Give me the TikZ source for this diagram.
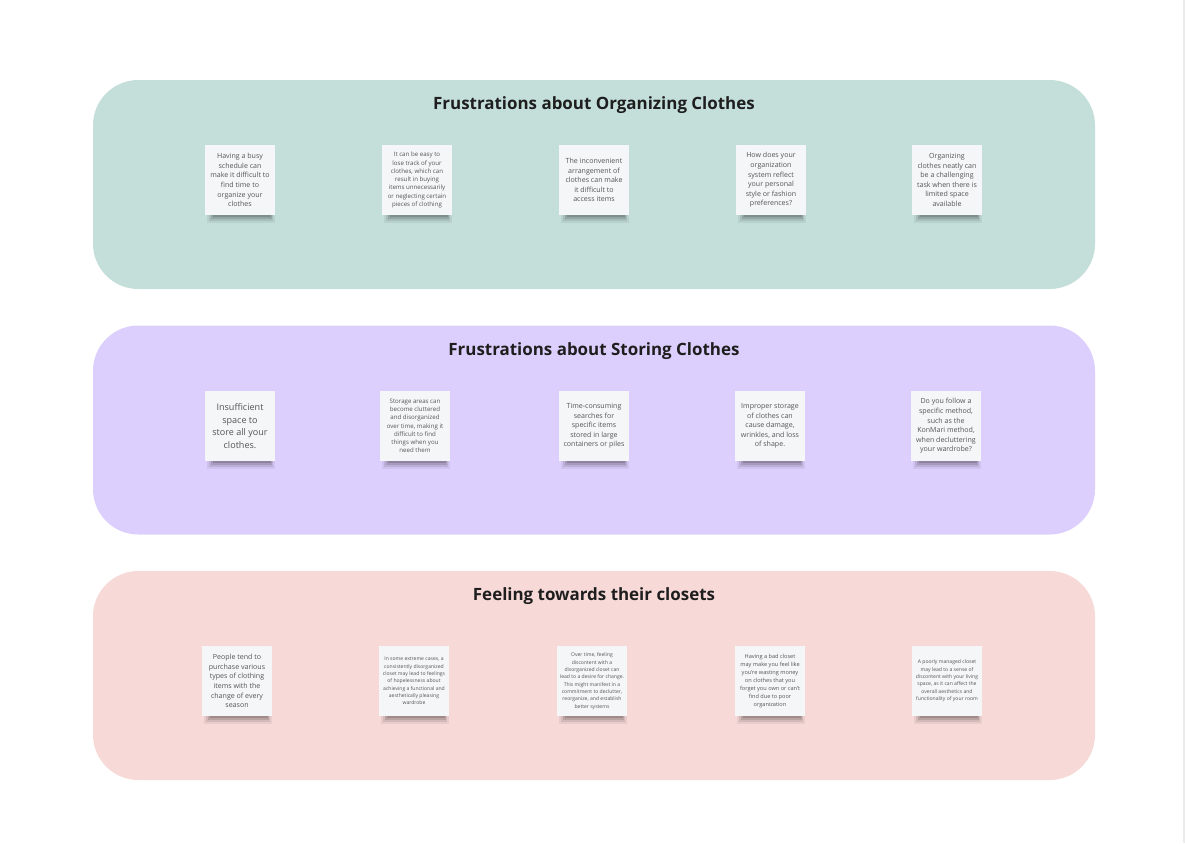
\documentclass[tikz,border=0pt]{standalone}
\usepackage{fontspec}
\setmainfont{Open Sans}
\usepackage{xcolor}
\usepackage{tikz}
\usetikzlibrary{positioning}

\definecolor{orgbg}{HTML}{C4DFD9}
\definecolor{storebg}{HTML}{DDCFFD}
\definecolor{feelbg}{HTML}{F7D9D8}
\definecolor{notefill}{HTML}{F5F6F8}
\definecolor{notetext}{HTML}{555555}
\definecolor{titletext}{HTML}{1E1E1E}

\begin{document}
\begin{tikzpicture}[x=0.75pt,y=-0.75pt,
  panel/.style={rectangle, rounded corners=34pt, minimum width=751.5pt,
    minimum height=156.75pt, inner sep=0pt},
  paneltitle/.style={inner sep=0pt, text=titletext,
    font=\bfseries\fontsize{12.7}{14}\selectfont},
  note/.style={rectangle, fill=notefill, minimum width=52.5pt,
    minimum height=52.5pt, inner sep=0pt, align=center, text=notetext,
    font=\fontsize{5.3}{7.2}\selectfont},
  notebig/.style={note, font=\fontsize{6.8}{9.4}\selectfont},
  notesmall/.style={note, font=\fontsize{4.6}{6.2}\selectfont},
  notemini/.style={note, font=\fontsize{4.2}{5.9}\selectfont},
  notetiny/.style={note, font=\fontsize{3.8}{5.5}\selectfont},
  noteshadow/.style={black, opacity=#1}]
  %% Canvas
  \useasboundingbox (0,0) rectangle (1185,843);
  \fill[white] (0,0) rectangle (1185,843);
  \draw[black!8, line width=0.8pt] (1184,0) -- (1184,843);

  %% Panels with titles
  \node[panel, fill=orgbg] (org) at (594,184.5) {};
  \node[panel, fill=storebg] (store) at (594,430) {};
  \node[panel, fill=feelbg] (feel) at (594,675.5) {};
  \node[paneltitle, below=12.5pt of org.north] (orgtitle)
    {Frustrations about Organizing Clothes};
  \node[paneltitle, below=12.5pt of store.north] (storetitle)
    {Frustrations about Storing Clothes};
  \node[paneltitle, below=12.5pt of feel.north] (feeltitle)
    {Feeling towards their closets};

  %% Sticky notes, organizing
  \node[note] (org1) at (240,180) {Having a busy\\schedule can\\make it difficult to\\find time to\\organize your\\clothes};
  \node[notesmall] (org2) at (417,180) {It can be easy to\\lose track of your\\clothes, which can\\result in buying\\items unnecessarily\\or neglecting certain\\pieces of clothing};
  \node[note] (org3) at (594,180) {The inconvenient\\arrangement of\\clothes can make\\it difficult to\\access items};
  \node[note] (org4) at (771,180) {How does your\\organization\\system reflect\\your personal\\style or fashion\\preferences?};
  \node[note] (org5) at (947,180) {Organizing\\clothes neatly can\\be a challenging\\task when there is\\limited space\\available};

  %% Sticky notes, storing
  \node[notebig] (store1) at (240,426) {Insufficient\\space to\\store all your\\clothes.};
  \node[notesmall] (store2) at (415,426) {Storage areas can\\become cluttered\\and disorganized\\over time, making it\\difficult to find\\things when you\\need them};
  \node[note] (store3) at (594,426) {Time-consuming\\searches for\\specific items\\stored in large\\containers or piles};
  \node[note] (store4) at (770,426) {Improper storage\\of clothes can\\cause damage,\\wrinkles, and loss\\of shape.};
  \node[note] (store5) at (946,426) {Do you follow a\\specific method,\\such as the\\KonMari method,\\when decluttering\\your wardrobe?};

  %% Sticky notes, feelings
  \node[note] (feel1) at (237,681) {People tend to\\purchase various\\types of clothing\\items with the\\change of every\\season};
  \node[notetiny] (feel2) at (414,681) {In some extreme cases, a\\consistently disorganized\\closet may lead to feelings\\of hopelessness about\\achieving a functional and\\aesthetically pleasing\\wardrobe};
  \node[notetiny] (feel3) at (592,681) {Over time, feeling\\discontent with a\\disorganized closet can\\lead to a desire for change.\\This might manifest in a\\commitment to declutter,\\reorganize, and establish\\better systems};
  \node[notemini] (feel4) at (770,681) {Having a bad closet\\may make you feel like\\you're wasting money\\on clothes that you\\forget you own or can't\\find due to poor\\organization};
  \node[notetiny] (feel5) at (947,681) {A poorly managed closet\\may lead to a sense of\\discontent with your living\\space, as it can affect the\\overall aesthetics and\\functionality of your room};

  %% Soft shadows under the bottom edge of every note
  \foreach \n in {org1,org2,org3,org4,org5,store1,store2,store3,store4,store5,
                  feel1,feel2,feel3,feel4,feel5} {
    \fill[noteshadow=0.06] ([xshift=2pt]\n.south west) rectangle ([xshift=-0.5pt,yshift=-5.5pt]\n.south east);
    \fill[noteshadow=0.09] ([xshift=3.5pt]\n.south west) rectangle ([xshift=-1.5pt,yshift=-4pt]\n.south east);
    \fill[noteshadow=0.12] ([xshift=5pt]\n.south west) rectangle ([xshift=-2.5pt,yshift=-2.5pt]\n.south east);
    \fill[noteshadow=0.14] ([xshift=6.5pt]\n.south west) rectangle ([xshift=-3.5pt,yshift=-1.2pt]\n.south east);
  }
\end{tikzpicture}
\end{document}
